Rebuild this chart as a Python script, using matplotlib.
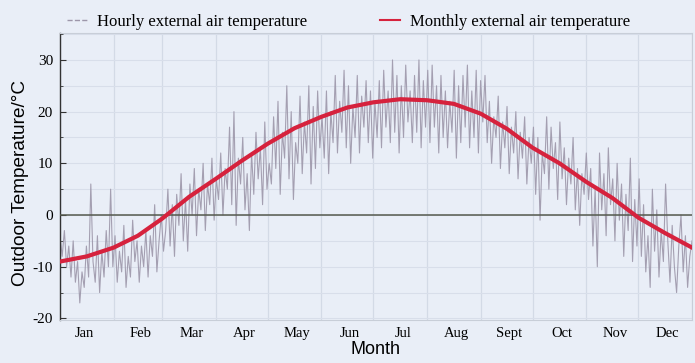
import matplotlib.pyplot as plt
from matplotlib.lines import Line2D
from matplotlib.ticker import MultipleLocator

# Month names (x tick labels)
months = ['Jan', 'Feb', 'Mar', 'Apr', 'May', 'Jun', 'Jul', 'Aug', 'Sept', 'Oct', 'Nov', 'Dec']
month_days = [31, 28, 31, 30, 31, 30, 31, 31, 30, 31, 30, 31]

jan = [-4, -8, -3, -10, -6, -12, -5, -13, -9, -17, -11, -14, -6, -12, 6, -9, -13, -4, -15, -7, -12, -3, -10, 5]
feb = [-10, -4, -13, -7, -11, -2, -14, -8, -12, -1, -9, -5, -13, -6, -10, -3, -12, -4, -8, 2, -11, -5, 0, -7]
mar = [-3, 5, -6, 2, -8, 4, -2, 8, -5, 3, -7, 6, 0, 9, -4, 5, 1, 10, -3, 6, 2, 11, -1, 7]
apr = [3, 12, 0, 9, 5, 17, 2, 20, -2, 11, 6, 15, 1, 8, -3, 12, 4, 16, 7, 13, 2, 18, 5, 10]
may = [6, 19, 9, 22, 4, 16, 11, 25, 7, 20, 3, 14, 10, 23, 8, 18, 12, 25, 6, 21, 9, 24, 13, 19]
jun = [11, 24, 8, 20, 14, 27, 12, 22, 16, 28, 13, 25, 10, 21, 15, 27, 12, 23, 17, 26, 14, 24, 11, 22]
jul = [15, 26, 13, 28, 17, 24, 14, 30, 16, 27, 12, 25, 15, 29, 18, 24, 14, 27, 16, 30, 13, 26, 17, 28]
aug = [14, 29, 17, 25, 12, 27, 15, 24, 13, 22, 16, 28, 11, 25, 14, 27, 17, 29, 13, 24, 15, 28, 12, 26]
sep = [18, 27, 14, 22, 10, 19, 15, 23, 9, 18, 13, 21, 8, 17, 12, 20, 7, 16, 11, 19, 6, 15, 10, 17]
oct_ = [4, 15, -1, 12, 8, 19, 5, 17, 9, 14, 3, 18, 7, 13, 2, 11, 6, 15, 1, 9, -2, 8, 4, 12]
nov = [3, 9, -6, 5, -10, 12, 1, 8, -4, 13, 2, 7, -5, 10, -1, 6, -8, 4, -3, 11, -9, 3, -6, 7]
dec = [-8, 2, -11, -4, -14, 5, -7, 1, -12, -3, -9, 6, -5, -13, -2, -10, -15, -6, 0, -11, -4, -14, -8, -5]

# Monthly curve, read every half month (start of Jan .. end of Dec)
monthly_curve = [-9.0, -8.0, -6.3, -4.0, -0.7, 3.5, 7.0, 10.5, 13.8, 16.8, 19.0, 20.8, 21.8,
                 22.4, 22.2, 21.5, 19.6, 16.7, 13.0, 10.0, 6.4, 3.3, -0.5, -3.5, -6.3]

hourly = jan + feb + mar + apr + may + jun + jul + aug + sep + oct_ + nov + dec
year_days = sum(month_days)
hourly_x = [i * year_days / (len(hourly) - 1) for i in range(len(hourly))]

edges = [0]
for d in month_days:
    edges.append(edges[-1] + d)
centers = [(edges[i] + edges[i + 1]) / 2 for i in range(12)]
curve_x = [0]
for i in range(12):
    curve_x += [centers[i], edges[i + 1]]

bg = '#e9eef7'
gray = '#9d97aa'
red = '#d6223d'
fig = plt.figure(figsize=(6.95, 3.63), dpi=100, facecolor=bg)
ax = fig.add_axes([0.0863, 0.1185, 0.9094, 0.7905], facecolor=bg)

ax.plot(hourly_x, hourly, color=gray, lw=0.8, alpha=0.9, zorder=2)
ax.axhline(0, color='#555a4e', lw=1.1, zorder=3)
ax.plot(curve_x, monthly_curve, color=red, lw=3.0, zorder=4)

ax.set_xlim(0, year_days)
ax.set_ylim(-20.3, 35.2)

# grid: month boundaries and every 5 degrees
ax.set_xticks(edges, minor=True)
ax.set_xticks([14] + [c + 1.5 for c in centers[1:]])
ax.set_xticklabels(months, family='Liberation Serif', fontsize=10.5)
ax.tick_params(axis='x', which='both', length=0, pad=5)
ax.yaxis.set_minor_locator(MultipleLocator(5))
ax.set_yticks(range(-20, 31, 10))
ax.set_yticklabels([str(v) for v in range(-20, 31, 10)], family='Liberation Serif', fontsize=11)
ax.tick_params(axis='y', which='major', direction='in', length=4, color='#333333', pad=5)
ax.tick_params(axis='y', which='minor', direction='in', length=2, color='#333333')
ax.grid(True, which='minor', axis='x', color='#d3dae6', lw=0.9)
ax.grid(True, which='both', axis='y', color='#d8deea', lw=0.8)

for s in ['top', 'bottom', 'right']:
    ax.spines[s].set_color('#c8ced8')
    ax.spines[s].set_linewidth(0.8)
ax.spines['left'].set_color('#333333')
ax.spines['left'].set_linewidth(1.0)

ax.set_ylabel('Outdoor Temperature/°C', family='Liberation Sans', fontsize=13.7, va='center')
ax.yaxis.set_label_coords(-0.062, 0.477)
ax.set_xlabel('Month', family='Liberation Sans', fontsize=13, labelpad=1)

handles = [Line2D([], [], color=gray, lw=1, ls='--'),
           Line2D([], [], color=red, lw=1.5)]
fig.legend(handles, ['Hourly external air temperature', 'Monthly external air temperature'],
           loc='center left', bbox_to_anchor=(0.0964, 0.9394), ncol=2, frameon=False,
           prop={'family': 'Liberation Serif', 'size': 12}, handlelength=1.2,
           handletextpad=0.6, columnspacing=4.4, borderpad=0, borderaxespad=0)

fig.savefig('out.png', dpi=100, facecolor=bg)
